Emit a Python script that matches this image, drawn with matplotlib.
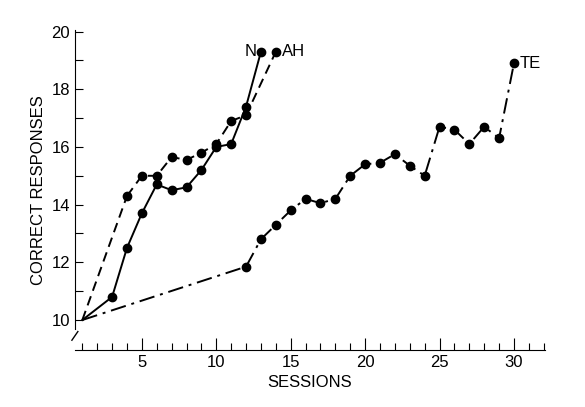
import matplotlib
matplotlib.use("Agg")
import matplotlib.pyplot as plt

n_x = [1, 3, 4, 5, 6, 7, 8, 9, 10, 11, 12, 13]
n_y = [10, 10.8, 12.5, 13.7, 14.7, 14.5, 14.6, 15.2, 16.0, 16.1, 17.4, 19.3]
ah_x = [1, 4, 5, 6, 7, 8, 9, 10, 11, 12, 14]
ah_y = [10, 14.3, 15.0, 15.0, 15.65, 15.55, 15.8, 16.1, 16.9, 17.1, 19.3]
te_x = [1, 12, 13, 14, 15, 16, 17, 18, 19, 20, 21, 22, 23, 24, 25, 26, 27, 28, 29, 30]
te_y = [10, 11.85, 12.8, 13.3, 13.8, 14.2, 14.05, 14.2, 15.0, 15.4, 15.45, 15.75, 15.35, 15.0,
        16.7, 16.6, 16.1, 16.7, 16.3, 18.9]

plt.rcParams['font.family'] = ['Liberation Sans', 'DejaVu Sans']
fig = plt.figure(figsize=(5.85, 4.07), dpi=100)
ax = fig.add_axes([0.128, 0.14, 0.804, 0.786])
ms = 6
ax.plot(n_x[1:], n_y[1:], '-', color='black', lw=1.4, marker='o', ms=ms)
ax.plot(n_x[:2], n_y[:2], '-', color='black', lw=1.4)
ax.plot(ah_x[1:], ah_y[1:], '--', color='black', lw=1.4, marker='o', ms=ms, dashes=(5, 3))
ax.plot(ah_x[:2], ah_y[:2], '--', color='black', lw=1.4, dashes=(5, 3))
ax.plot(te_x[1:], te_y[1:], '-.', color='black', lw=1.4, marker='o', ms=ms, dashes=(8, 3, 1.5, 3))
ax.plot(te_x[:2], te_y[:2], '-.', color='black', lw=1.4, dashes=(8, 3, 1.5, 3))

ax.text(12.7, 19.3, 'N', ha='right', va='center', fontsize=12)
ax.text(14.4, 19.3, 'AH', ha='left', va='center', fontsize=12)
ax.text(30.4, 18.9, 'TE', ha='left', va='center', fontsize=12)

ax.set_xlim(0.5, 32.1)
ax.set_ylim(8.96, 20.05)
ax.spines['top'].set_visible(False)
ax.spines['right'].set_visible(False)
ax.spines['left'].set_bounds(9.7, 20.05)
ax.set_yticks(range(10, 21))
ax.set_yticklabels([str(v) if v % 2 == 0 else '' for v in range(10, 21)])
ax.set_xticks(range(1, 33))
ax.set_xticklabels([str(v) if v % 5 == 0 else '' for v in range(1, 33)])
ax.tick_params(axis='y', direction='in', length=6, labelsize=12)
ax.tick_params(axis='x', direction='in', length=5, labelsize=12)
for t in ax.xaxis.get_major_ticks():
    if int(t.get_loc()) % 5 == 0:
        t.tick1line.set_markersize(9)
ax.plot([0.3, 0.7], [9.3, 9.6], color='black', lw=1, clip_on=False)
ax.set_xlabel('SESSIONS', fontsize=12)
ax.set_ylabel('CORRECT RESPONSES', fontsize=12)
fig.savefig('out.png', dpi=100)
